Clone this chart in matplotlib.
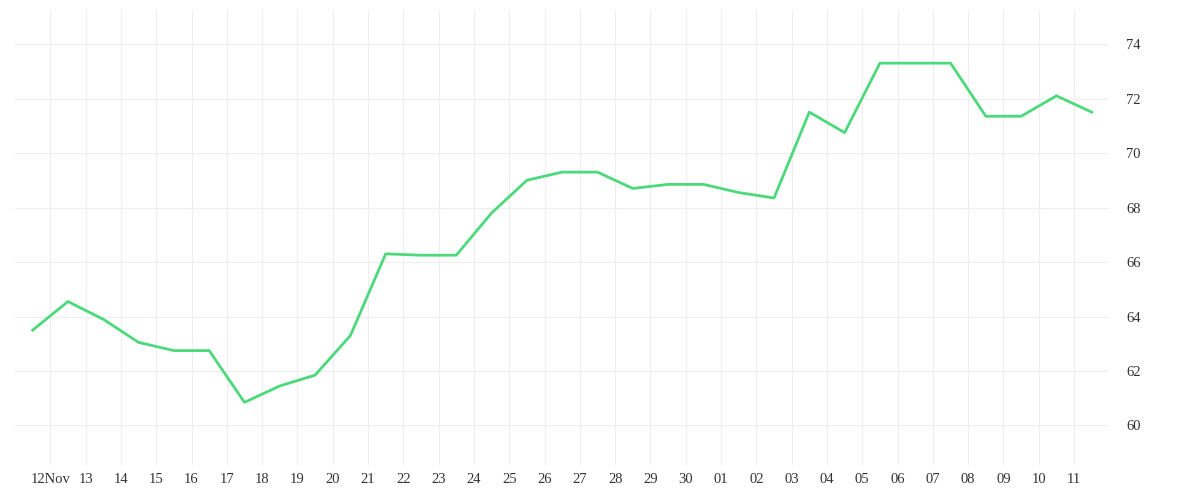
import matplotlib
matplotlib.use("Agg")
import matplotlib.pyplot as plt
import numpy as np

tick_labels = ["12Nov","13","14","15","16","17","18","19","20","21","22","23","24","25","26","27","28","29","30",
               "01","02","03","04","05","06","07","08","09","10","11"]
values = [63.5,64.55,63.9,63.05,62.75,62.75,60.85,61.45,61.85,63.3,66.3,66.25,66.25,67.8,69.0,69.3,69.3,68.7,
          68.85,68.85,68.55,68.35,71.5,70.75,73.3,73.3,73.3,71.35,71.35,72.1,71.5]

fig = plt.figure(figsize=(12, 5), dpi=100)
ax = fig.add_axes([0.0125, 0.07, 0.912, 0.91])
x = np.arange(len(values)) - 0.5  # point positions in days from 12 Nov
ax.plot(x, values, color="#4cd97b", lw=2)
ax.set_xlim(-1, 30)
ax.set_ylim(58.55, 75.25)
ax.set_xticks(np.arange(len(tick_labels)))
ax.set_xticklabels(tick_labels, family="Liberation Serif", fontsize=10.5, color="#333")
ax.set_yticks(np.arange(60, 75, 2))
ax.set_yticklabels([str(v) for v in range(60, 75, 2)], family="Liberation Serif", fontsize=10.5, color="#333")
ax.yaxis.tick_right()
ax.grid(True, color="#eeeeee", lw=0.8)
ax.set_axisbelow(True)
for s in ax.spines.values():
    s.set_visible(False)
ax.tick_params(axis="both", length=0, pad=6)
ax.tick_params(axis="y", pad=12)
fig.savefig("out.png")
